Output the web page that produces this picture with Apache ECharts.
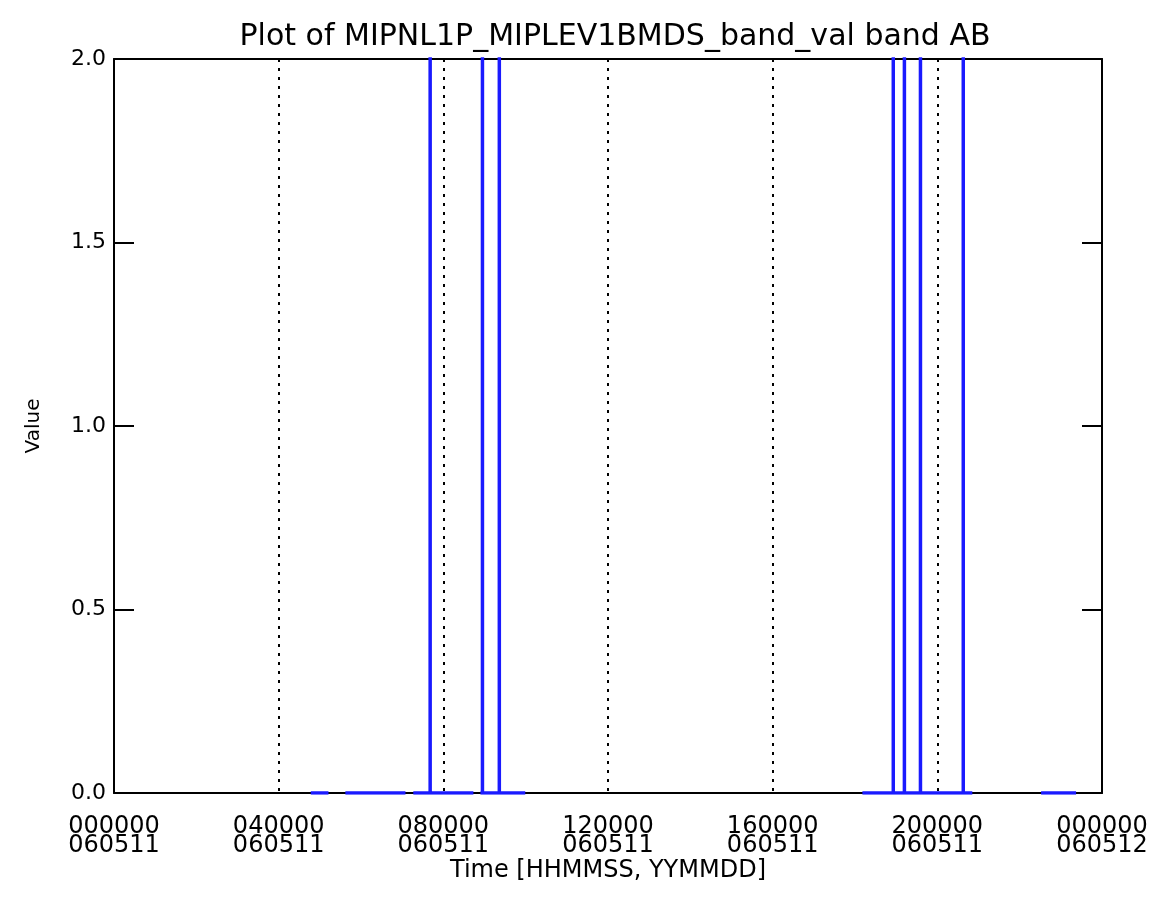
<!DOCTYPE html>
<html>
<head>
<meta charset="utf-8">
<script src="https://cdn.jsdelivr.net/npm/echarts@6/dist/echarts.min.js"></script>
<style>html,body{margin:0;padding:0;background:#fff;}#chart{width:1160px;height:907px;}</style>
</head>
<body>
<div id="chart"></div>
<script>
// Data (time in hours since 000000 060511)
const segStart = [4.78, 5.62, 7.27, 8.90, 18.18, 22.52];
const segEnd   = [5.21, 7.08, 8.73, 9.99, 20.85, 23.37];
const baseValue = 0.0;
const spikeTimes  = [7.68, 8.95, 9.36, 18.93, 19.20, 19.59, 20.63];
const spikeValues = [3.0, 3.0, 3.0, 3.0, 3.0, 3.0, 3.0];
const xTickTimes  = ['000000', '040000', '080000', '120000', '160000', '200000', '000000'];
const xTickDates  = ['060511', '060511', '060511', '060511', '060511', '060511', '060512'];
const yTickLabels = ['0.0', '0.5', '1.0', '1.5', '2.0'];
const titleText = 'Plot of MIPNL1P_MIPLEV1BMDS_band_val band AB';

const data = [];
for (let i = 0; i < segStart.length; i++) {
  data.push([segStart[i], baseValue]);
  for (let k = 0; k < spikeTimes.length; k++) {
    const t = spikeTimes[k];
    if (t >= segStart[i] && t <= segEnd[i]) {
      data.push([t, baseValue]);
      data.push([t, spikeValues[k]]);
      data.push([t, baseValue]);
    }
  }
  data.push([segEnd[i], baseValue]);
  data.push([segEnd[i], '-']);
}

const font = 'DejaVu Sans';
const chart = echarts.init(document.getElementById('chart'), null, {renderer: 'canvas'});
chart.setOption({
  animation: false,
  backgroundColor: '#fff',
  title: {
    text: titleText, left: 610, top: 17, textAlign: 'center',
    textStyle: {fontFamily: font, fontSize: 30, fontWeight: 'normal', color: '#000'}
  },
  grid: {left: 114, right: 58, top: 59, bottom: 114},
  xAxis: [{
    type: 'value', min: 0, max: 24, interval: 4,
    name: 'Time [HHMMSS, YYMMDD]', nameLocation: 'middle', nameGap: 66, nameMoveOverlap: false,
    nameTextStyle: {fontFamily: font, fontSize: 24, color: '#000'},
    axisLine: {show: true, lineStyle: {color: '#000', width: 2}},
    axisTick: {show: false},
    axisLabel: {
      margin: 24, fontFamily: font, fontSize: 24, color: '#000', lineHeight: 19,
      formatter: v => { const i = Math.round(v / 4); return xTickTimes[i] + '\n' + xTickDates[i]; }
    },
    splitLine: {show: true, lineStyle: {color: '#000', width: 2, type: [3, 6]}}
  }, {
    type: 'value', min: 0, max: 24, interval: 4, position: 'top',
    axisLine: {show: true, onZero: false, lineStyle: {color: '#000', width: 2}},
    axisTick: {show: false}, axisLabel: {show: false}, splitLine: {show: false}
  }],
  yAxis: [{
    type: 'value', min: 0, max: 2, interval: 0.5,
    name: 'Value', nameLocation: 'middle', nameGap: 70, nameRotate: 90, nameMoveOverlap: false,
    nameTextStyle: {fontFamily: font, fontSize: 20, color: '#000'},
    axisLine: {show: true, lineStyle: {color: '#000', width: 2}},
    axisTick: {show: true, inside: true, length: 20, lineStyle: {color: '#000', width: 2}},
    axisLabel: {
      margin: 8, fontFamily: font, fontSize: 22, color: '#000',
      formatter: v => yTickLabels[Math.round(v / 0.5)]
    },
    splitLine: {show: false}
  }, {
    type: 'value', min: 0, max: 2, interval: 0.5, position: 'right',
    axisLine: {show: true, onZero: false, lineStyle: {color: '#000', width: 2}},
    axisTick: {show: true, inside: true, length: 20, lineStyle: {color: '#000', width: 2}},
    axisLabel: {show: false}, splitLine: {show: false}
  }],
  series: [{
    type: 'line', data: data, xAxisIndex: 0, yAxisIndex: 0,
    showSymbol: false, symbol: 'none', connectNulls: false, clip: true,
    lineStyle: {color: '#1a1aff', width: 3.5},
    z: 5
  }]
});
</script>
</body>
</html>
